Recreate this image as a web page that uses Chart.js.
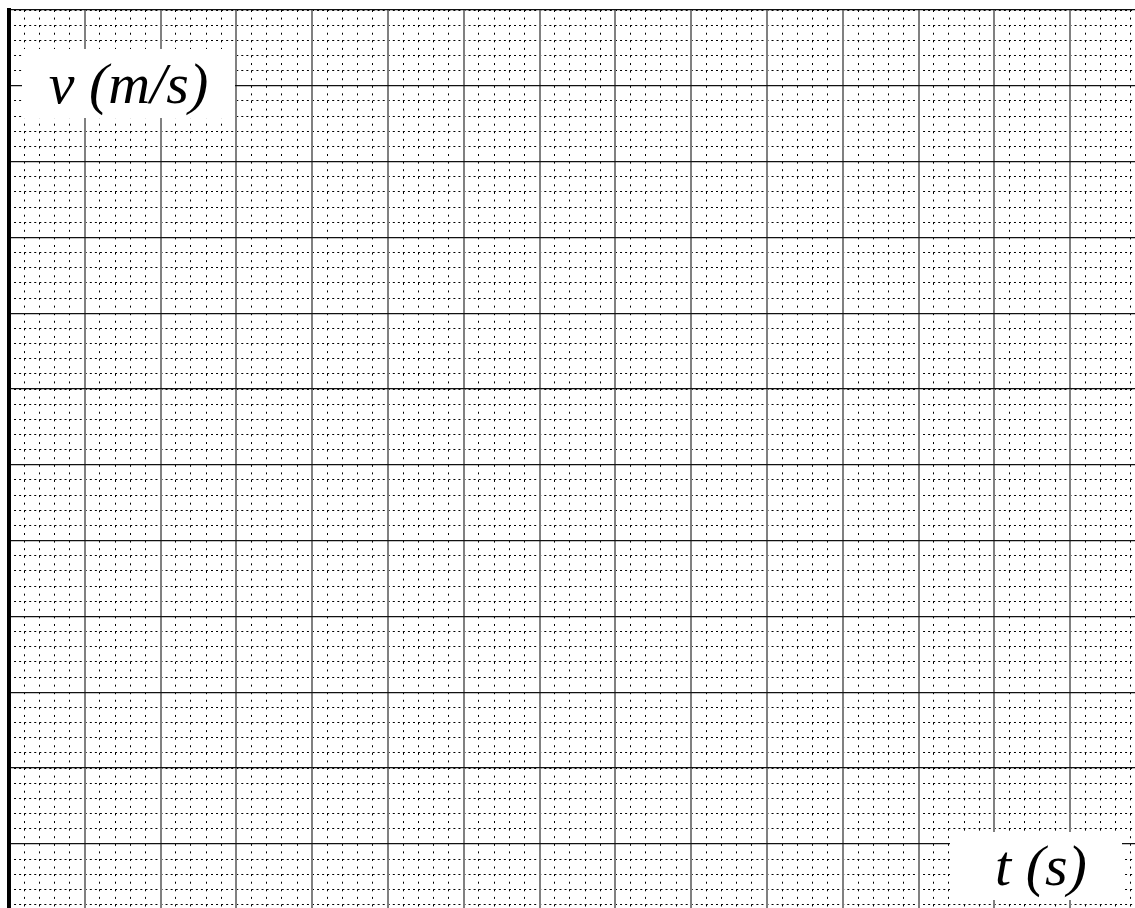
<!DOCTYPE html>
<html>
<head>
<meta charset="utf-8">
<script src="https://cdn.jsdelivr.net/npm/chart.js@4/dist/chart.umd.min.js"></script>
<style>
  html, body { margin: 0; padding: 0; background: #fff; overflow: hidden; }
  #wrap { position: relative; width: 1135px; height: 908px; }
  #wrap canvas { position: absolute; left: 0; top: 0; }
  .lbl {
    position: absolute; background: #fff; color: #000; z-index: 2;
    font-family: 'Liberation Serif', 'Times New Roman', serif; font-style: italic; font-size: 58px;
    text-align: center; white-space: nowrap; box-sizing: border-box;
  }
  #vlab { left: 22px; top: 49px; width: 213px; height: 69px; line-height: 69px; }
  #tlab { left: 950px; top: 832px; width: 172px; height: 68px; line-height: 68px; padding-left: 10px; }
</style>
</head>
<body>
<div id="wrap">
  <canvas id="c"></canvas>
  <div class="lbl" id="vlab">v (m/s)</div>
  <div class="lbl" id="tlab">t (s)</div>
</div>
<script>
// Axis titles (real text, shown in the label boxes)
const yTitle = 'v (m/s)';
const xTitle = 't (s)';
// Grid ranges in minor-division units (5 minor divisions per major square)
const xRange = [0, 74.27];
const yRange = [0.77, 60];
const minorStep = [1];
const majorStep = [5];
// Empty series: blank graph paper
const seriesValues = [];

document.getElementById('vlab').textContent = yTitle;
document.getElementById('tlab').textContent = xTitle;

const hidden = { display: false };

new Chart(document.getElementById('c'), {
  type: 'scatter',
  data: { datasets: [{ data: seriesValues, showLine: false }] },
  options: {
    responsive: true,
    maintainAspectRatio: false,
    animation: false,
    events: [],
    layout: { padding: { left: 9, top: 10, right: 0, bottom: 0 } },
    plugins: { legend: hidden, tooltip: { enabled: false }, title: hidden },
    scales: {
      xMinor: {
        type: 'linear', position: 'bottom', axis: 'x',
        min: xRange[0], max: xRange[1],
        ticks: { display: false, stepSize: minorStep[0], includeBounds: false },
        grid: { color: '#000', lineWidth: 1, drawTicks: false },
        border: { display: false, dash: [2, 5.58] }
      },
      yMinor: {
        type: 'linear', position: 'left', axis: 'y',
        min: yRange[0], max: yRange[1],
        ticks: { display: false, stepSize: minorStep[0], includeBounds: false },
        grid: { color: '#000', lineWidth: 1, drawTicks: false },
        border: { display: false, dash: [2, 3.05] }
      },
      x: {
        type: 'linear', position: 'bottom', z: 1,
        min: xRange[0], max: xRange[1],
        ticks: { display: false, stepSize: majorStep[0], includeBounds: false },
        grid: { color: '#808080', lineWidth: 2, drawTicks: false },
        border: { display: false }
      },
      y: {
        type: 'linear', position: 'left', z: 1,
        min: yRange[0], max: yRange[1],
        ticks: { display: false, stepSize: majorStep[0], includeBounds: false },
        grid: { color: '#111', lineWidth: 1.2, drawTicks: false },
        border: { display: true, color: '#000', width: 4 }
      }
    }
  }
});
</script>
</body>
</html>
